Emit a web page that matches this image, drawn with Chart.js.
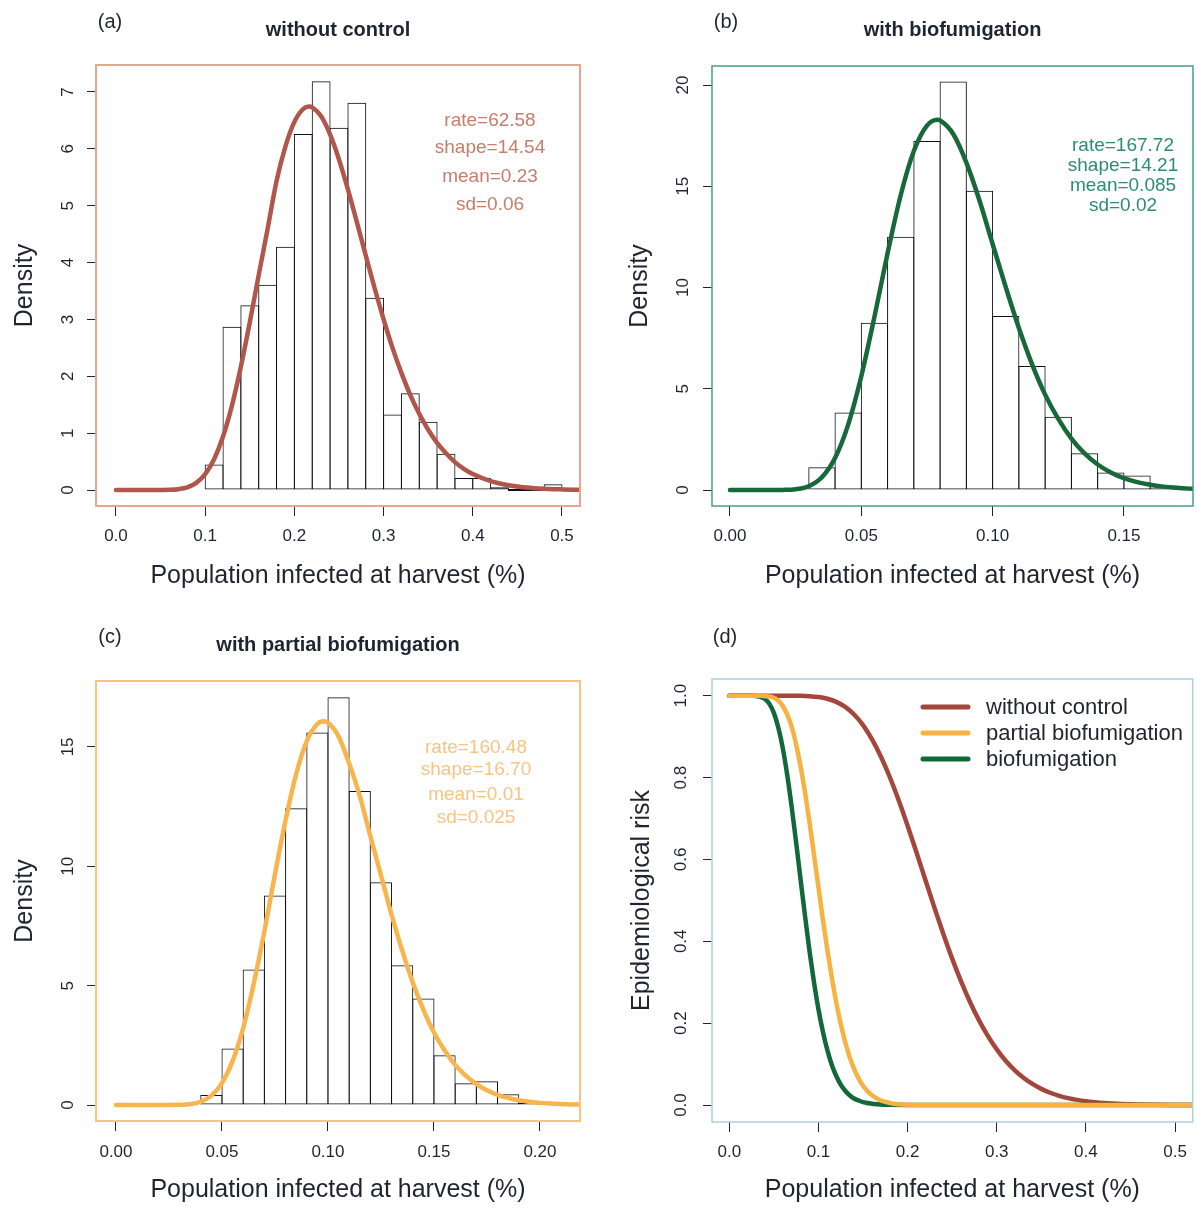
<!DOCTYPE html>
<html>
<head>
<meta charset="utf-8">
<title>Population infected at harvest</title>
<script src="https://cdn.jsdelivr.net/npm/chart.js@4.4.1/dist/chart.umd.min.js"></script>
<style>
  body { margin: 0; background: #fff; }
  #page { position: relative; width: 1197px; height: 1208px; overflow: hidden; }
  #page canvas { position: absolute; }
</style>
</head>
<body>
<div id="page">
  <canvas id="chartA" width="600" height="604" style="left:0;top:0"></canvas>
  <canvas id="chartB" width="597" height="604" style="left:600px;top:0"></canvas>
  <canvas id="chartC" width="600" height="604" style="left:0;top:604px"></canvas>
  <canvas id="chartD" width="597" height="604" style="left:600px;top:604px"></canvas>
</div>
<script>
// ---- data ----

// (a) without control: histogram (bin centres, density) and fitted gamma curve
const binsA = [0.11, 0.13, 0.15, 0.17, 0.19, 0.21, 0.23, 0.25, 0.27, 0.29, 0.31, 0.33, 0.35, 0.37, 0.39, 0.41, 0.43, 0.45, 0.47, 0.49];
const densA = [0.45, 2.87, 3.25, 3.61, 4.28, 6.26, 7.19, 6.37, 6.81, 3.38, 1.33, 1.70, 1.20, 0.64, 0.21, 0.21, 0.05, 0, 0, 0.10];
const curveAX = [0, 0.02, 0.04, 0.05, 0.06, 0.07, 0.08, 0.09, 0.10, 0.11, 0.12, 0.13, 0.14, 0.15, 0.16, 0.17, 0.18, 0.19, 0.20, 0.21, 0.2164, 0.22, 0.23, 0.24, 0.25, 0.26, 0.27, 0.28, 0.29, 0.30, 0.31, 0.32, 0.33, 0.34, 0.35, 0.36, 0.37, 0.38, 0.39, 0.40, 0.42, 0.44, 0.46, 0.48, 0.50, 0.52];
const curveAY = [0, 0, 0, 0.0005, 0.003, 0.015, 0.047, 0.125, 0.278, 0.541, 0.940, 1.485, 2.167, 2.949, 3.779, 4.593, 5.435, 6.044, 6.474, 6.703, 6.743, 6.730, 6.571, 6.253, 5.813, 5.287, 4.714, 4.125, 3.548, 3.003, 2.50, 2.06, 1.67, 1.34, 1.06, 0.83, 0.645, 0.49, 0.372, 0.28, 0.157, 0.084, 0.044, 0.022, 0.011, 0.005];
const notesA = ['rate=62.58', 'shape=14.54', 'mean=0.23', 'sd=0.06'];

// (b) with biofumigation
const binsB = [0.035, 0.045, 0.055, 0.065, 0.075, 0.085, 0.095, 0.105, 0.115, 0.125, 0.135, 0.145, 0.155, 0.165];
const densB = [1.12, 3.83, 8.26, 12.51, 17.23, 20.18, 14.78, 8.59, 6.12, 3.62, 1.81, 0.86, 0.72, 0.2];
const curveBX = [0, 0.01, 0.015, 0.02, 0.025, 0.03, 0.035, 0.04, 0.045, 0.05, 0.055, 0.06, 0.065, 0.07, 0.075, 0.079, 0.08, 0.085, 0.09, 0.095, 0.10, 0.105, 0.11, 0.115, 0.12, 0.125, 0.13, 0.135, 0.14, 0.145, 0.15, 0.155, 0.16, 0.165, 0.17, 0.175, 0.18];
const curveBY = [0, 0, 0.0002, 0.005, 0.039, 0.189, 0.63, 1.58, 3.23, 5.62, 8.55, 11.69, 14.56, 16.74, 18.0, 18.29, 18.25, 17.58, 16.17, 14.3, 12.15, 10.02, 8.0, 6.22, 4.71, 3.51, 2.54, 1.81, 1.26, 0.87, 0.585, 0.39, 0.257, 0.167, 0.107, 0.068, 0.043];
const notesB = ['rate=167.72', 'shape=14.21', 'mean=0.085', 'sd=0.02'];

// (c) with partial biofumigation
const binsC = [0.045, 0.055, 0.065, 0.075, 0.085, 0.095, 0.105, 0.115, 0.125, 0.135, 0.145, 0.155, 0.165, 0.175, 0.185, 0.195];
const densC = [0.42, 2.37, 5.68, 8.78, 12.43, 15.6, 17.08, 13.15, 9.33, 5.85, 4.46, 2.09, 0.91, 1.0, 0.45, 0.1];
const curveCX = [0, 0.02, 0.025, 0.03, 0.035, 0.04, 0.045, 0.05, 0.055, 0.06, 0.065, 0.07, 0.075, 0.08, 0.085, 0.09, 0.095, 0.098, 0.10, 0.105, 0.11, 0.115, 0.12, 0.125, 0.13, 0.135, 0.14, 0.145, 0.15, 0.155, 0.16, 0.165, 0.17, 0.175, 0.18, 0.185, 0.19, 0.195, 0.20, 0.205, 0.21, 0.215, 0.22];
const curveCY = [0, 0, 0.001, 0.0075, 0.038, 0.137, 0.392, 0.92, 1.84, 3.22, 5.09, 7.27, 9.67, 11.93, 13.86, 15.24, 15.96, 16.07, 16.01, 15.44, 14.3, 12.95, 11.26, 9.63, 7.97, 6.48, 5.13, 4.0, 3.04, 2.29, 1.68, 1.23, 0.876, 0.62, 0.43, 0.30, 0.20, 0.14, 0.09, 0.06, 0.04, 0.025, 0.017];
const notesC = ['rate=160.48', 'shape=16.70', 'mean=0.01', 'sd=0.025'];

// (d) epidemiological risk curves
const riskNames = ['without control', 'partial biofumigation', 'biofumigation'];
const riskNoneX = [0, 0.05, 0.08, 0.09, 0.10, 0.11, 0.12, 0.13, 0.14, 0.15, 0.16, 0.17, 0.18, 0.19, 0.20, 0.21, 0.22, 0.23, 0.24, 0.25, 0.26, 0.27, 0.28, 0.29, 0.30, 0.31, 0.32, 0.33, 0.34, 0.35, 0.36, 0.37, 0.38, 0.39, 0.40, 0.41, 0.42, 0.43, 0.44, 0.45, 0.46, 0.48, 0.50, 0.52];
const riskNoneY = [1, 1, 0.9996, 0.9987, 0.9967, 0.9925, 0.985, 0.9727, 0.9541, 0.9282, 0.894, 0.8516, 0.8014, 0.7444, 0.6822, 0.6168, 0.5497, 0.4828, 0.4184, 0.3577, 0.302, 0.2518, 0.2074, 0.1688, 0.1359, 0.1083, 0.0854, 0.0666, 0.0515, 0.0394, 0.0299, 0.0225, 0.0168, 0.0125, 0.0092, 0.0068, 0.0049, 0.0035, 0.0025, 0.0018, 0.0013, 0.0006, 0.0003, 0.0001];
const riskPartX = [0, 0.035, 0.04, 0.045, 0.05, 0.055, 0.06, 0.065, 0.07, 0.075, 0.08, 0.085, 0.09, 0.095, 0.10, 0.105, 0.11, 0.115, 0.12, 0.125, 0.13, 0.135, 0.14, 0.145, 0.15, 0.155, 0.16, 0.17, 0.18, 0.19, 0.20, 0.22, 0.52];
const riskPartY = [1, 1, 0.999, 0.998, 0.995, 0.988, 0.975, 0.954, 0.924, 0.881, 0.827, 0.763, 0.690, 0.612, 0.532, 0.453, 0.379, 0.311, 0.250, 0.198, 0.154, 0.117, 0.088, 0.065, 0.047, 0.034, 0.024, 0.011, 0.005, 0.002, 0.0008, 0.0001, 0];
const riskBioX = [0, 0.02, 0.025, 0.03, 0.035, 0.04, 0.045, 0.05, 0.055, 0.06, 0.065, 0.07, 0.075, 0.08, 0.085, 0.09, 0.095, 0.10, 0.105, 0.11, 0.115, 0.12, 0.125, 0.13, 0.135, 0.14, 0.145, 0.15, 0.155, 0.16, 0.165, 0.17, 0.18, 0.20, 0.52];
const riskBioY = [1, 1, 0.9999, 0.999, 0.997, 0.992, 0.980, 0.958, 0.922, 0.872, 0.806, 0.728, 0.641, 0.550, 0.461, 0.376, 0.300, 0.234, 0.179, 0.134, 0.098, 0.071, 0.050, 0.035, 0.024, 0.016, 0.011, 0.007, 0.005, 0.003, 0.002, 0.001, 0.0004, 0.0001, 0];

// axis ticks
const ticksTenths = [0, 0.1, 0.2, 0.3, 0.4, 0.5];
const labelsTenths = ['0.0', '0.1', '0.2', '0.3', '0.4', '0.5'];
const ticksB = [0, 0.05, 0.10, 0.15];
const labelsB = ['0.00', '0.05', '0.10', '0.15'];
const ticksC = [0, 0.05, 0.10, 0.15, 0.20];
const labelsC = ['0.00', '0.05', '0.10', '0.15', '0.20'];
const yTicksA = [0, 1, 2, 3, 4, 5, 6, 7];
const yTicksB = [0, 5, 10, 15, 20];
const yTicksC = [0, 5, 10, 15];
const yTicksD = [0, 0.2, 0.4, 0.6, 0.8, 1.0];
const yLabelsD = ['0.0', '0.2', '0.4', '0.6', '0.8', '1.0'];

const X_TITLE = 'Population infected at harvest (%)';
const INK = '#1e2530';
const FONT = '"Liberation Sans", Arial, Helvetica, sans-serif';

Chart.defaults.font.family = FONT;
Chart.defaults.color = INK;

/**
 * Box, panel letter, title, notes and legend drawn over the chart
 */
const panelDecor = {
  id: 'panelDecor',
  afterDraw(chart, args, opts) {
    const ctx = chart.ctx;
    const a = chart.chartArea;
    ctx.save();
    ctx.strokeStyle = opts.boxColor;
    ctx.lineWidth = opts.boxWidth;
    ctx.strokeRect(a.left, a.top, a.right - a.left, a.bottom - a.top);

    ctx.textAlign = 'center';
    ctx.textBaseline = 'middle';
    ctx.fillStyle = INK;
    ctx.font = '20px ' + FONT;
    ctx.fillText(opts.letter, opts.letterX, opts.letterY);

    if (opts.title) {
      ctx.font = 'bold 20px ' + FONT;
      ctx.fillText(opts.title, (a.left + a.right) / 2, opts.titleY);
    }

    if (opts.notes) {
      ctx.fillStyle = opts.noteColor;
      ctx.font = '19px ' + FONT;
      opts.notes.forEach((t, i) => ctx.fillText(t, opts.noteX, opts.noteY[i]));
    }

    if (opts.legend) {
      const lg = opts.legend;
      ctx.font = '22px ' + FONT;
      ctx.textAlign = 'left';
      ctx.lineCap = 'round';
      lg.names.forEach((name, i) => {
        ctx.strokeStyle = lg.colors[i];
        ctx.lineWidth = 5;
        ctx.beginPath();
        ctx.moveTo(lg.x0, lg.ys[i]);
        ctx.lineTo(lg.x1, lg.ys[i]);
        ctx.stroke();
        ctx.fillStyle = INK;
        ctx.fillText(name, lg.textX, lg.ys[i] + 1);
      });
    }
    ctx.restore();
  }
};

/**
 * Horizontal axis with fixed ticks and fixed height
 */
function xAxis(min, max, ticks, labels, height, tickPad, titlePad) {
  return {
    type: 'linear',
    min, max,
    offset: false,
    afterBuildTicks: s => { s.ticks = ticks.map(v => ({ value: v })); },
    afterFit: s => { s.height = height; },
    grid: { offset: false, drawOnChartArea: false, drawTicks: true, tickLength: 10, color: INK },
    border: { display: false },
    ticks: {
      autoSkip: false, minRotation: 0, maxRotation: 0, padding: tickPad,
      color: INK, font: { size: 17 },
      callback: (v, i) => labels[i]
    },
    title: { display: true, text: X_TITLE, color: INK, font: { size: 25 }, padding: { top: 0, bottom: titlePad } }
  };
}

/**
 * Vertical axis, labels turned parallel to the axis
 */
function yAxis(min, max, ticks, labels, width, tickPad, title, titlePad) {
  return {
    type: 'linear',
    min, max,
    afterBuildTicks: s => { s.ticks = ticks.map(v => ({ value: v })); },
    afterFit: s => { s.width = width; },
    grid: { drawOnChartArea: false, drawTicks: true, tickLength: 9, color: INK },
    border: { display: false },
    ticks: {
      autoSkip: false, minRotation: 90, maxRotation: 90, crossAlign: 'center', padding: tickPad,
      color: INK, font: { size: 17 },
      callback: (v, i) => labels[i]
    },
    title: { display: true, text: title, color: INK, font: { size: 25 }, padding: { top: titlePad, bottom: 0 } }
  };
}

/**
 * Histogram with fitted density curve
 */
function histChart(id, p) {
  new Chart(document.getElementById(id), {
    type: 'bar',
    data: {
      datasets: [
        {
          type: 'line',
          data: p.curveX.map((x, i) => ({ x, y: p.curveY[i] })),
          borderColor: p.curveColor,
          borderWidth: 4.5,
          borderCapStyle: 'round',
          pointRadius: 0,
          cubicInterpolationMode: 'monotone',
          order: 0
        },
        {
          type: 'bar',
          data: p.bins.map((x, i) => ({ x, y: p.dens[i] })),
          backgroundColor: 'rgba(255,255,255,0)',
          borderColor: '#0d1117',
          borderWidth: 1,
          borderSkipped: false,
          // slightly wider than the bin so neighbouring borders overlap into one line
          barPercentage: p.barPct,
          categoryPercentage: 1,
          grouped: false,
          minBarLength: 2,
          order: 1
        }
      ]
    },
    options: {
      responsive: false,
      devicePixelRatio: 1,
      animation: false,
      events: [],
      layout: { padding: p.padding },
      scales: { x: p.x, y: p.y },
      plugins: {
        legend: { display: false },
        tooltip: { enabled: false },
        panelDecor: p.decor
      }
    },
    plugins: [panelDecor]
  });
}

// (a)
histChart('chartA', {
  bins: binsA, dens: densA, curveX: curveAX, curveY: curveAY,
  curveColor: '#b0564a', barPct: 1.056,
  padding: { left: 0, top: 65, right: 20, bottom: 0 },
  x: xAxis(-0.0224, 0.5202, ticksTenths, labelsTenths, 98, 10, 13),
  y: yAxis(-0.281, 7.474, yTicksA, yTicksA.map(String), 96, 14, 'Density', 10),
  decor: {
    boxColor: '#eaa58e', boxWidth: 2,
    letter: '(a)', letterX: 110, letterY: 22,
    title: 'without control', titleY: 30,
    notes: notesA, noteColor: '#c67d6a', noteX: 490, noteY: [121, 148, 177, 205]
  }
});

// (b)
histChart('chartB', {
  bins: binsB, dens: densB, curveX: curveBX, curveY: curveBY,
  curveColor: '#17693a', barPct: 1.038,
  padding: { left: 0, top: 66, right: 4, bottom: 0 },
  x: xAxis(-0.00685, 0.1763, ticksB, labelsB, 98, 10, 13),
  y: yAxis(-0.79, 20.94, yTicksB, yTicksB.map(String), 112, 10.5, 'Density', 25),
  decor: {
    boxColor: '#43a089', boxWidth: 1.5,
    letter: '(b)', letterX: 126, letterY: 22,
    title: 'with biofumigation', titleY: 30,
    notes: notesB, noteColor: '#2c8c74', noteX: 523, noteY: [146, 166, 186, 206]
  }
});

// (c)
histChart('chartC', {
  bins: binsC, dens: densC, curveX: curveCX, curveY: curveCY,
  curveColor: '#f8b54e', barPct: 1.047,
  padding: { left: 0, top: 77, right: 20, bottom: 0 },
  x: xAxis(-0.00943, 0.2189, ticksC, labelsC, 87, 10.8, 3),
  y: yAxis(-0.669, 17.76, yTicksC, yTicksC.map(String), 96, 9.5, 'Density', 10),
  decor: {
    boxColor: '#f9c47f', boxWidth: 2,
    letter: '(c)', letterX: 110, letterY: 33,
    title: 'with partial biofumigation', titleY: 41,
    notes: notesC, noteColor: '#f8c385', noteX: 476, noteY: [144, 166, 191, 214]
  }
});

// (d)
const riskColors = ['#a5463d', '#f7b241', '#12683a'];
new Chart(document.getElementById('chartD'), {
  type: 'line',
  data: {
    datasets: [
      { label: riskNames[0], data: riskNoneX.map((x, i) => ({ x, y: riskNoneY[i] })), borderColor: riskColors[0], order: 3 },
      { label: riskNames[1], data: riskPartX.map((x, i) => ({ x, y: riskPartY[i] })), borderColor: riskColors[1], order: 1 },
      { label: riskNames[2], data: riskBioX.map((x, i) => ({ x, y: riskBioY[i] })), borderColor: riskColors[2], order: 2 }
    ]
  },
  options: {
    responsive: false,
    devicePixelRatio: 1,
    animation: false,
    events: [],
    layout: { padding: { left: 0, top: 75, right: 4, bottom: 0 } },
    elements: {
      line: { borderWidth: 4.5, cubicInterpolationMode: 'monotone', borderCapStyle: 'round' },
      point: { radius: 0 }
    },
    scales: {
      x: xAxis(-0.0194, 0.5198, ticksTenths, labelsTenths, 86, 10, 3),
      y: yAxis(-0.0415, 1.0408, yTicksD, yLabelsD, 112, 9.5, 'Epidemiological risk', 26.7)
    },
    plugins: {
      legend: { display: false },
      tooltip: { enabled: false },
      panelDecor: {
        boxColor: '#a9cfe6', boxWidth: 1.5,
        letter: '(d)', letterX: 125, letterY: 33,
        legend: { names: riskNames, colors: riskColors, x0: 323, x1: 368, textX: 386, ys: [103, 129, 155] }
      }
    }
  },
  plugins: [panelDecor]
});
</script>
</body>
</html>
